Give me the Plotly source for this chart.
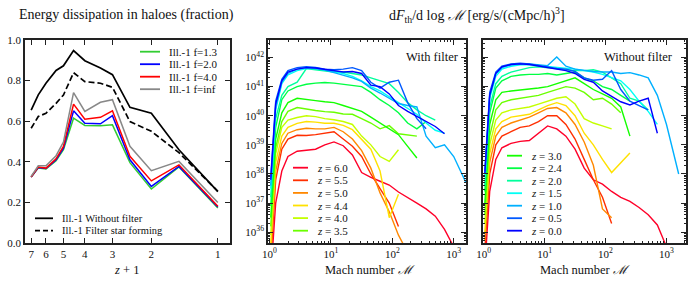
import plotly.graph_objects as go

# ---------------- Left panel data ----------------
z_plus_1 = [7, 6.5, 6, 5.4, 5, 4.5, 4, 3.4, 3, 2.5, 2, 1.5, 1]
frac_without_filter = [0.655, 0.73, 0.787, 0.85, 0.873, 0.948, 0.898, 0.862, 0.829, 0.668, 0.639, 0.459, 0.253]
frac_filter_sf = [0.565, 0.623, 0.639, 0.688, 0.729, 0.839, 0.795, 0.787, 0.767, 0.598, 0.55, 0.445, 0.255]
frac_f13 = [0.325, 0.37, 0.365, 0.405, 0.46, 0.615, 0.579, 0.577, 0.582, 0.396, 0.266, 0.375, 0.172]
frac_f20 = [0.325, 0.372, 0.367, 0.41, 0.467, 0.651, 0.59, 0.587, 0.627, 0.41, 0.279, 0.377, 0.178]
frac_f40 = [0.325, 0.374, 0.369, 0.415, 0.476, 0.684, 0.61, 0.619, 0.651, 0.427, 0.306, 0.385, 0.181]
frac_finf = [0.328, 0.38, 0.38, 0.43, 0.497, 0.741, 0.648, 0.693, 0.706, 0.476, 0.356, 0.402, 0.2]

# ---------------- Mach-number spectra (log10 of dF/dlogM) ----------------
mach = [1.047, 1.259, 1.585, 1.995, 2.818, 3.981, 5.623, 7.943, 11.22, 15.85, 22.39, 31.62,
        44.67, 63.10, 89.13, 125.9, 177.8, 251.2, 354.8, 501.2, 707.9, 1000.0, 1585.0]
N = None
redshift_labels = ["6.0", "5.5", "5.0", "4.4", "4.0", "3.5", "3.0", "2.4", "2.0", "1.5", "1.0", "0.5", "0.0"]
redshift_colors = ["#ff0029", "#ff2f00", "#ff8800", "#ffe100", "#c4ff00", "#6bff00", "#14ff00",
                   "#00ff43", "#00ff9c", "#00fff5", "#00b0ff", "#0059ff", "#0000ff"]

# with filter
wf_z60 = [34.5, 37.0, 38.1, 38.6, 38.78, 38.82, 38.85, 39.0, 39.1, 38.97, 38.65, 38.05, 37.88, 37.75, 37.62, 37.38, 37.2, 37.0, 36.8, 36.55, 36.1, 35.5, N]
wf_z55 = [35.0, 37.8, 38.85, 39.2, 39.33, 39.32, 39.35, 39.4, 39.45, 39.2, 38.95, 38.6, 38.0, 37.5, 37.0, 36.2, N, N, N, N, N, N, N]
wf_z50 = [35.3, 38.1, 39.05, 39.4, 39.52, 39.57, 39.55, 39.55, 39.6, 39.45, 39.2, 38.8, 38.2, 37.35, 36.7, 35.9, 35.3, N, N, N, N, N, N]
wf_z44 = [35.6, 38.4, 39.3, 39.6, 39.74, 39.8, 39.78, 39.74, 39.74, 39.67, 39.52, 39.2, 38.85, 38.1, 36.5, 37.3, N, N, N, N, N, N, N]
wf_z40 = [35.9, 38.7, 39.6, 39.85, 39.94, 40.0, 39.97, 39.9, 39.86, 39.8, 39.7, 39.3, 39.0, 38.6, 38.43, 38.83, N, N, N, N, N, N, N]
wf_z35 = [36.2, 38.9, 39.8, 40.15, 40.28, 40.22, 40.18, 40.14, 40.12, 40.06, 40.05, 39.9, 39.75, 39.55, 39.66, 39.38, 39.33, 39.3, N, N, N, N, N]
wf_z30 = [36.5, 39.2, 40.1, 40.45, 40.6, 40.55, 40.52, 40.48, 40.45, 40.35, 40.25, 40.15, 39.95, 39.75, 39.55, 39.35, 38.95, 38.55, N, N, N, N, N]
wf_z24 = [36.9, 39.6, 40.55, 40.85, 41.0, 41.08, 41.12, 41.14, 41.12, 41.08, 41.06, 41.0, 40.8, 40.55, 40.35, 40.1, 39.75, 39.55, 39.8, N, N, N, N]
wf_z20 = [37.2, 39.9, 40.7, 41.0, 41.15, 41.62, 41.58, 41.55, 41.5, 41.5, 41.45, 41.4, 41.3, 41.2, 41.1, 40.8, 40.45, 40.2, 40.0, 39.85, N, N, N]
wf_z15 = [37.5, 40.2, 41.1, 41.4, 41.55, 41.62, 41.62, 41.58, 41.52, 41.45, 41.35, 41.2, 41.0, 40.85, 40.65, 40.45, 40.25, 40.05, 39.75, 39.5, 39.4, N, N]
wf_z10 = [37.6, 40.3, 41.15, 41.45, 41.6, 41.65, 41.62, 41.57, 41.48, 41.4, 41.3, 41.18, 40.95, 40.78, 40.6, 40.42, 40.35, 40.3, 39.3, 38.9, 39.0, 38.6, 37.7]
wf_z05 = [37.9, 40.5, 41.25, 41.55, 41.65, 41.68, 41.66, 41.6, 41.58, 41.6, 41.65, 41.55, 41.15, 40.95, 41.15, 41.22, 40.45, 39.9, 39.55, N, N, N, N]
wf_z00 = [37.8, 40.4, 41.2, 41.5, 41.6, 41.65, 41.64, 41.6, 41.56, 41.5, 41.52, 41.45, 41.05, 41.0, 40.75, 40.35, 40.15, 39.97, 39.8, 39.63, 39.38, N, N]

# without filter
nf_z60 = [34.8, 37.4, 38.5, 38.9, 39.05, 39.12, 39.15, 39.4, 39.65, 39.55, 39.3, 38.85, 38.2, 37.8, 37.65, 37.4, 37.2, 37.06, 36.85, 36.6, 36.25, 35.5, N]
nf_z55 = [35.4, 38.0, 39.0, 39.3, 39.45, 39.6, 39.65, 39.8, 40.0, 40.0, 39.7, 39.2, 38.5, 37.8, 37.2, 36.3, N, N, N, N, N, N, N]
nf_z50 = [35.7, 38.4, 39.3, 39.6, 39.75, 39.85, 39.95, 40.1, 40.25, 40.28, 40.1, 39.7, 39.1, 38.3, 36.8, 36.5, N, N, N, N, N, N, N]
nf_z44 = [36.0, 38.7, 39.55, 39.8, 39.95, 40.0, 40.05, 40.2, 40.35, 40.45, 40.35, 40.0, 39.4, 39.0, 38.5, 38.05, 38.4, 38.72, N, N, N, N, N]
nf_z40 = [36.3, 39.0, 39.85, 40.1, 40.2, 40.25, 40.3, 40.4, 40.5, 40.6, 40.65, 40.4, 39.9, 39.75, 39.65, 39.55, N, N, N, N, N, N, N]
nf_z35 = [36.6, 39.3, 40.2, 40.45, 40.55, 40.6, 40.65, 40.7, 40.8, 40.9, 41.0, 40.95, 40.8, 40.55, 40.6, 40.4, 40.1, N, N, N, N, N, N]
nf_z30 = [37.0, 39.7, 40.55, 40.8, 40.85, 40.88, 40.92, 40.95, 41.0, 41.1, 41.22, 41.3, 41.1, 40.9, 40.75, 40.6, 40.3, 39.3, N, N, N, N, N]
nf_z24 = [37.4, 40.1, 40.95, 41.2, 41.35, 41.4, 41.42, 41.42, 41.45, 41.4, 41.45, 41.5, 41.3, 41.2, 41.0, 40.9, 40.7, 40.5, N, N, N, N, N]
nf_z20 = [37.6, 40.3, 41.1, 41.35, 41.5, 41.58, 41.65, 41.68, 41.65, 41.62, 41.6, 41.55, 41.55, 41.58, 41.5, 41.3, 41.1, 40.6, 40.5, 40.2, N, N, N]
nf_z15 = [37.9, 40.6, 41.35, 41.6, 41.7, 41.75, 41.75, 41.72, 41.7, 41.66, 41.62, 41.6, 41.55, 41.5, 41.42, 41.3, 41.2, 40.9, 40.5, 40.15, 39.7, N, N]
nf_z10 = [38.0, 40.7, 41.45, 41.65, 41.75, 41.78, 41.78, 41.75, 41.72, 42.02, 41.7, 41.6, 41.55, 41.52, 41.5, 41.5, 41.45, 41.48, 41.4, 41.3, 40.7, 39.7, 38.0]
nf_z05 = [38.1, 40.8, 41.5, 41.7, 41.78, 41.8, 41.78, 41.72, 41.68, 41.62, 41.6, 41.52, 41.3, 41.22, 41.25, 41.55, 40.9, 40.5, 40.35, 40.2, N, N, N]
nf_z00 = [38.0, 40.7, 41.45, 41.68, 41.76, 41.78, 41.76, 41.7, 41.65, 41.6, 41.55, 41.45, 41.25, 41.15, 40.85, 40.65, 40.48, 40.37, 40.5, 40.6, 39.4, N, N]

with_filter = [wf_z60, wf_z55, wf_z50, wf_z44, wf_z40, wf_z35, wf_z30, wf_z24, wf_z20, wf_z15, wf_z10, wf_z05, wf_z00]
no_filter = [nf_z60, nf_z55, nf_z50, nf_z44, nf_z40, nf_z35, nf_z30, nf_z24, nf_z20, nf_z15, nf_z10, nf_z05, nf_z00]

FONT = "Liberation Serif, DejaVu Serif, serif"
W, H = 690, 290


def px(x):
    return x / W


def py(y):
    return 1 - y / H


fig = go.Figure()

left_series = [
    (frac_f13, "#32cd32", "solid", 1.5),
    (frac_f20, "#0000ff", "solid", 1.5),
    (frac_f40, "#ff0000", "solid", 1.5),
    (frac_finf, "#888888", "solid", 1.5),
    (frac_without_filter, "#000000", "solid", 1.7),
    (frac_filter_sf, "#000000", "6px,3px", 1.7),
]
for vals, col, dash, w in left_series:
    fig.add_trace(go.Scatter(x=z_plus_1, y=vals, mode="lines", xaxis="x", yaxis="y",
                             line=dict(color=col, width=w, dash=dash), showlegend=False))

for data, xa, ya in [(with_filter, "x2", "y2"), (no_filter, "x3", "y3")]:
    for vals, col in zip(data, redshift_colors):
        fig.add_trace(go.Scatter(x=mach, y=[None if v is None else 10 ** v for v in vals],
                                 mode="lines", xaxis=xa, yaxis=ya, connectgaps=False,
                                 line=dict(color=col, width=1.4), showlegend=False))

Y_DOM = [py(243), py(40)]
axis_common = dict(showline=True, linecolor="#222", linewidth=1.6, mirror="allticks",
                   ticks="inside", tickcolor="#222", ticklen=5, tickwidth=1,
                   showgrid=False, zeroline=False, automargin=False,
                   tickfont=dict(family=FONT, size=11, color="#111"))

minor_vals = [m * 10 ** e for e in range(0, 4) for m in range(2, 10)]
minor_y = [m * 10.0 ** e for e in range(35, 43) for m in range(2, 10)]
minor_style = dict(ticks="inside", ticklen=2.5, tickcolor="#222", tickwidth=0.8, showgrid=False)

fig.update_layout(
    width=W, height=H, margin=dict(l=0, r=0, t=0, b=0, autoexpand=False),
    paper_bgcolor="white", plot_bgcolor="white", showlegend=False,
    font=dict(family=FONT, color="#111"),
    xaxis=dict(domain=[px(25), px(230)], type="log", range=[0.873, -0.055], anchor="y",
               tickvals=[1, 2, 3, 4, 5, 6, 7], ticktext=["1", "2", "3", "4", "5", "6", "7"],
               **axis_common),
    yaxis=dict(domain=Y_DOM, range=[0, 1], tickvals=[0, 0.2, 0.4, 0.6, 0.8, 1.0],
               ticktext=["0.0", "0.2", "0.4", "0.6", "0.8", "1.0"], anchor="x", **axis_common),
    xaxis2=dict(domain=[px(268), px(466)], type="log", range=[-0.025, 3.2], anchor="y2",
                tickvals=[1, 10, 100, 1000],
                ticktext=["10<sup>0</sup>", "10<sup>1</sup>", "10<sup>2</sup>", "10<sup>3</sup>"],
                minor=dict(tickvals=minor_vals, **minor_style), **axis_common),
    yaxis2=dict(domain=Y_DOM, type="log", range=[35.63, 42.6], anchor="x2",
                tickvals=[10.0 ** e for e in range(36, 43)],
                ticktext=["10<sup>%d</sup>" % e for e in range(36, 43)],
                minor=dict(tickvals=minor_y, **minor_style), **axis_common),
    xaxis3=dict(domain=[px(483), px(686)], type="log", range=[-0.01, 3.32], anchor="y3",
                tickvals=[1, 10, 100, 1000],
                ticktext=["10<sup>0</sup>", "10<sup>1</sup>", "10<sup>2</sup>", "10<sup>3</sup>"],
                minor=dict(tickvals=minor_vals, **minor_style), **axis_common),
    yaxis3=dict(domain=Y_DOM, type="log", range=[35.63, 42.6], anchor="x3",
                tickvals=[10.0 ** e for e in range(36, 43)], showticklabels=False,
                minor=dict(tickvals=minor_y, **minor_style), **axis_common),
)

ann = []
shapes = []


def text(x, y, s, size, xanchor="center"):
    ann.append(dict(x=px(x), y=py(y), xref="paper", yref="paper", text=s, showarrow=False,
                    xanchor=xanchor, yanchor="middle", font=dict(family=FONT, size=size, color="#111")))


def legend_entry(x0, x1, y, color, label, size, dash="solid", width=1.8):
    shapes.append(dict(type="line", xref="paper", yref="paper", x0=px(x0), x1=px(x1), y0=py(y), y1=py(y),
                       line=dict(color=color, width=width, dash=dash)))
    text(x1 + 7, y, label, size, xanchor="left")


text(126, 15, "Energy dissipation in haloes (fraction)", 14)
text(477, 15, "d<i>F</i><sub>th</sub>/d log <i>ℳ</i> [erg/s/(cMpc/h)<sup>3</sup>]", 14)
text(126, 270, "<i>z</i> + 1", 12.5)
text(370, 270, "Mach number <i>ℳ</i>", 12.5)
text(585, 270, "Mach number <i>ℳ</i>", 12.5)
text(461, 57, "With filter", 12.5, xanchor="right")
text(675, 57, "Without filter", 12.5, xanchor="right")

for i, (col, lab) in enumerate([("#32cd32", "Ill.-1 f=1.3"), ("#0000ff", "Ill.-1 f=2.0"),
                                ("#ff0000", "Ill.-1 f=4.0"), ("#888888", "Ill.-1 f=inf")]):
    legend_entry(140, 160, 51.7 + 12.5 * i, col, lab, 11)
legend_entry(35, 53, 218.3, "#000000", "Ill.-1 Without filter", 10.5)
legend_entry(35, 53, 230.7, "#000000", "Ill.-1 Filter star forming", 10.5, dash="5px,3px")

for i in range(6):
    legend_entry(293, 308, 167.7 + 12.6 * i, redshift_colors[i], "<i>z</i> = " + redshift_labels[i], 11)
for i in range(7):
    legend_entry(507, 522, 155.7 + 12.5 * i, redshift_colors[6 + i], "<i>z</i> = " + redshift_labels[6 + i], 11)

fig.update_layout(annotations=ann, shapes=shapes)
fig.write_html("out.html", config={"displayModeBar": False},
               post_script="document.body.style.margin='0px';")
